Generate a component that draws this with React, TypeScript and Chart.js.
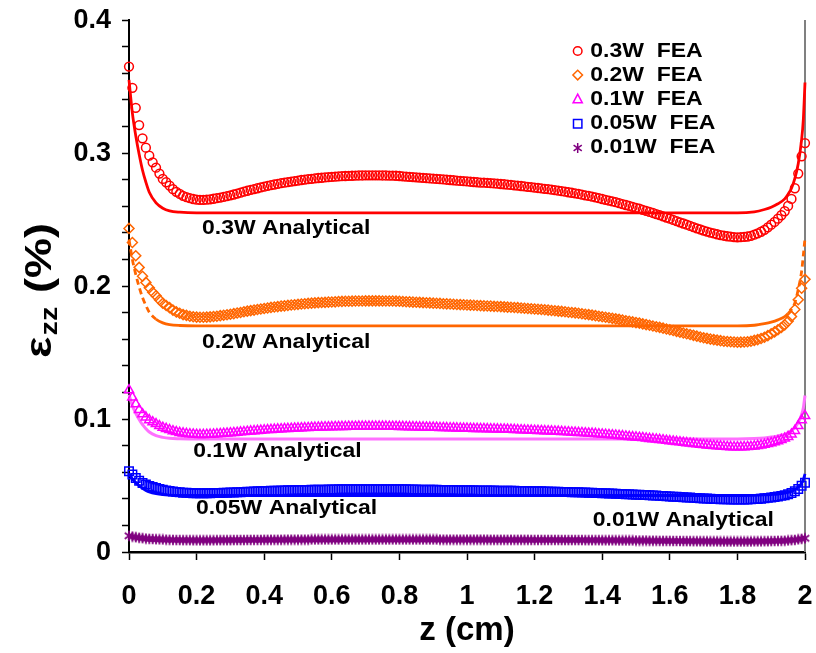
import React, { useEffect, useRef } from 'react';
import { Chart, registerables } from 'chart.js';

Chart.register(...registerables);

// z positions of the FEA samples (cm)
const zGrid = [
  0, 0.01, 0.02, 0.03, 0.04, 0.05, 0.06, 0.07, 0.08, 0.09,
  0.1, 0.11, 0.12, 0.13, 0.14, 0.15, 0.16, 0.17, 0.18, 0.19,
  0.2, 0.21, 0.22, 0.23, 0.24, 0.25, 0.26, 0.27, 0.28, 0.29,
  0.3, 0.31, 0.32, 0.33, 0.34, 0.35, 0.36, 0.37, 0.38, 0.39,
  0.4, 0.41, 0.42, 0.43, 0.44, 0.45, 0.46, 0.47, 0.48, 0.49,
  0.5, 0.51, 0.52, 0.53, 0.54, 0.55, 0.56, 0.57, 0.58, 0.59,
  0.6, 0.61, 0.62, 0.63, 0.64, 0.65, 0.66, 0.67, 0.68, 0.69,
  0.7, 0.71, 0.72, 0.73, 0.74, 0.75, 0.76, 0.77, 0.78, 0.79,
  0.8, 0.81, 0.82, 0.83, 0.84, 0.85, 0.86, 0.87, 0.88, 0.89,
  0.9, 0.91, 0.92, 0.93, 0.94, 0.95, 0.96, 0.97, 0.98, 0.99,
  1, 1.01, 1.02, 1.03, 1.04, 1.05, 1.06, 1.07, 1.08, 1.09,
  1.1, 1.11, 1.12, 1.13, 1.14, 1.15, 1.16, 1.17, 1.18, 1.19,
  1.2, 1.21, 1.22, 1.23, 1.24, 1.25, 1.26, 1.27, 1.28, 1.29,
  1.3, 1.31, 1.32, 1.33, 1.34, 1.35, 1.36, 1.37, 1.38, 1.39,
  1.4, 1.41, 1.42, 1.43, 1.44, 1.45, 1.46, 1.47, 1.48, 1.49,
  1.5, 1.51, 1.52, 1.53, 1.54, 1.55, 1.56, 1.57, 1.58, 1.59,
  1.6, 1.61, 1.62, 1.63, 1.64, 1.65, 1.66, 1.67, 1.68, 1.69,
  1.7, 1.71, 1.72, 1.73, 1.74, 1.75, 1.76, 1.77, 1.78, 1.79,
  1.8, 1.81, 1.82, 1.83, 1.84, 1.85, 1.86, 1.87, 1.88, 1.89,
  1.9, 1.91, 1.92, 1.93, 1.94, 1.95, 1.96, 1.97, 1.98, 1.99,
  2,
];

const fea03 = [
  0.365, 0.349, 0.334, 0.321, 0.311, 0.304, 0.298, 0.293, 0.289, 0.2845,
  0.2805, 0.278, 0.2755, 0.2728, 0.2708, 0.2692, 0.2678, 0.2668, 0.266, 0.2654,
  0.2649, 0.2647, 0.2647, 0.2649, 0.2652, 0.2656, 0.266, 0.2665, 0.267, 0.2676,
  0.2682, 0.2688, 0.2695, 0.2702, 0.2709, 0.2716, 0.2723, 0.2729, 0.2735, 0.2741,
  0.2747, 0.2753, 0.2758, 0.2763, 0.2768, 0.2773, 0.2777, 0.2781, 0.2785, 0.2789,
  0.2793, 0.2797, 0.28, 0.2803, 0.2806, 0.2809, 0.2812, 0.2814, 0.2816, 0.2818,
  0.282, 0.2822, 0.2824, 0.2826, 0.2827, 0.2828, 0.2829, 0.283, 0.2831, 0.2831,
  0.2832, 0.2832, 0.2832, 0.2832, 0.2832, 0.2831, 0.2831, 0.283, 0.283, 0.2829,
  0.2827, 0.2825, 0.2823, 0.2821, 0.2819, 0.2817, 0.2815, 0.2813, 0.2811, 0.2809,
  0.2807, 0.2805, 0.2803, 0.2801, 0.2799, 0.2797, 0.2795, 0.2792, 0.279, 0.2788,
  0.2786, 0.2784, 0.2782, 0.278, 0.2778, 0.2777, 0.2775, 0.2773, 0.2771, 0.2769,
  0.2767, 0.2765, 0.2762, 0.276, 0.2757, 0.2755, 0.2752, 0.2749, 0.2746, 0.2743,
  0.274, 0.2737, 0.2734, 0.2731, 0.2728, 0.2724, 0.2721, 0.2717, 0.2713, 0.2709,
  0.2705, 0.2701, 0.2697, 0.2692, 0.2687, 0.2682, 0.2677, 0.2672, 0.2666, 0.266,
  0.2654, 0.2648, 0.2642, 0.2636, 0.263, 0.2623, 0.2616, 0.2609, 0.2602, 0.2595,
  0.2588, 0.2581, 0.2573, 0.2565, 0.2557, 0.2549, 0.2541, 0.2533, 0.2524, 0.2515,
  0.2506, 0.2497, 0.2488, 0.2479, 0.247, 0.2461, 0.2452, 0.2443, 0.2434, 0.2425,
  0.2417, 0.2409, 0.2402, 0.2395, 0.2389, 0.2383, 0.2378, 0.2374, 0.2371, 0.2368,
  0.2366, 0.2367, 0.2369, 0.2372, 0.2377, 0.2386, 0.2396, 0.2408, 0.2422, 0.2441,
  0.2461, 0.2482, 0.2506, 0.2532, 0.2562, 0.2602, 0.2655, 0.2735, 0.2845, 0.2975,
  0.3075,
];

const fea02 = [
  0.2433, 0.2327, 0.2227, 0.214, 0.2073, 0.2027, 0.1987, 0.1953, 0.1927, 0.1897,
  0.187, 0.1853, 0.1837, 0.1819, 0.1805, 0.1795, 0.1785, 0.1779, 0.1773, 0.1769,
  0.1766, 0.1765, 0.1765, 0.1766, 0.1768, 0.1771, 0.1773, 0.1777, 0.178, 0.1784,
  0.1788, 0.1792, 0.1797, 0.1801, 0.1806, 0.1811, 0.1815, 0.1819, 0.1823, 0.1827,
  0.1831, 0.1835, 0.1839, 0.1842, 0.1845, 0.1849, 0.1851, 0.1854, 0.1857, 0.1859,
  0.1862, 0.1865, 0.1867, 0.1869, 0.1871, 0.1873, 0.1875, 0.1876, 0.1877, 0.1879,
  0.188, 0.1881, 0.1883, 0.1884, 0.1885, 0.1885, 0.1886, 0.1887, 0.1887, 0.1887,
  0.1888, 0.1888, 0.1888, 0.1888, 0.1888, 0.1887, 0.1887, 0.1887, 0.1887, 0.1886,
  0.1885, 0.1883, 0.1882, 0.1881, 0.1879, 0.1878, 0.1877, 0.1875, 0.1874, 0.1873,
  0.1871, 0.187, 0.1869, 0.1867, 0.1866, 0.1865, 0.1863, 0.1861, 0.186, 0.1859,
  0.1857, 0.1856, 0.1855, 0.1853, 0.1852, 0.1851, 0.185, 0.1849, 0.1847, 0.1846,
  0.1845, 0.1843, 0.1841, 0.184, 0.1838, 0.1837, 0.1835, 0.1833, 0.1831, 0.1829,
  0.1827, 0.1825, 0.1823, 0.1821, 0.1819, 0.1816, 0.1814, 0.1811, 0.1809, 0.1806,
  0.1803, 0.1801, 0.1798, 0.1795, 0.1791, 0.1788, 0.1785, 0.1781, 0.1777, 0.1773,
  0.1769, 0.1765, 0.1761, 0.1757, 0.1753, 0.1749, 0.1744, 0.1739, 0.1735, 0.173,
  0.1725, 0.1721, 0.1715, 0.171, 0.1705, 0.1699, 0.1694, 0.1689, 0.1683, 0.1677,
  0.1671, 0.1665, 0.1659, 0.1653, 0.1647, 0.1641, 0.1635, 0.1629, 0.1623, 0.1617,
  0.1611, 0.1606, 0.1601, 0.1597, 0.1593, 0.1589, 0.1585, 0.1583, 0.1581, 0.1579,
  0.1577, 0.1578, 0.1579, 0.1581, 0.1585, 0.1591, 0.1597, 0.1605, 0.1615, 0.1627,
  0.1641, 0.1655, 0.1671, 0.1688, 0.1708, 0.1735, 0.177, 0.1823, 0.1897, 0.1983,
  0.205,
];

const fea01 = [
  0.1217, 0.1163, 0.1113, 0.107, 0.1037, 0.1013, 0.0993, 0.0977, 0.0963, 0.0948,
  0.0935, 0.0927, 0.0918, 0.0909, 0.0903, 0.0897, 0.0893, 0.0889, 0.0887, 0.0885,
  0.0883, 0.0882, 0.0882, 0.0883, 0.0884, 0.0885, 0.0887, 0.0888, 0.089, 0.0892,
  0.0894, 0.0896, 0.0898, 0.0901, 0.0903, 0.0905, 0.0908, 0.091, 0.0912, 0.0914,
  0.0916, 0.0918, 0.0919, 0.0921, 0.0923, 0.0924, 0.0926, 0.0927, 0.0928, 0.093,
  0.0931, 0.0932, 0.0933, 0.0934, 0.0935, 0.0936, 0.0937, 0.0938, 0.0939, 0.0939,
  0.094, 0.0941, 0.0941, 0.0942, 0.0942, 0.0943, 0.0943, 0.0943, 0.0944, 0.0944,
  0.0944, 0.0944, 0.0944, 0.0944, 0.0944, 0.0944, 0.0944, 0.0943, 0.0943, 0.0943,
  0.0942, 0.0942, 0.0941, 0.094, 0.094, 0.0939, 0.0938, 0.0938, 0.0937, 0.0936,
  0.0936, 0.0935, 0.0934, 0.0934, 0.0933, 0.0932, 0.0932, 0.0931, 0.093, 0.0929,
  0.0929, 0.0928, 0.0927, 0.0927, 0.0926, 0.0926, 0.0925, 0.0924, 0.0924, 0.0923,
  0.0922, 0.0922, 0.0921, 0.092, 0.0919, 0.0918, 0.0917, 0.0916, 0.0915, 0.0914,
  0.0913, 0.0912, 0.0911, 0.091, 0.0909, 0.0908, 0.0907, 0.0906, 0.0904, 0.0903,
  0.0902, 0.09, 0.0899, 0.0897, 0.0896, 0.0894, 0.0892, 0.0891, 0.0889, 0.0887,
  0.0885, 0.0883, 0.0881, 0.0879, 0.0877, 0.0874, 0.0872, 0.087, 0.0867, 0.0865,
  0.0863, 0.086, 0.0858, 0.0855, 0.0852, 0.085, 0.0847, 0.0844, 0.0841, 0.0838,
  0.0835, 0.0832, 0.0829, 0.0826, 0.0823, 0.082, 0.0817, 0.0814, 0.0811, 0.0808,
  0.0806, 0.0803, 0.0801, 0.0798, 0.0796, 0.0794, 0.0793, 0.0791, 0.079, 0.0789,
  0.0789, 0.0789, 0.079, 0.0791, 0.0792, 0.0795, 0.0799, 0.0803, 0.0807, 0.0814,
  0.082, 0.0827, 0.0835, 0.0844, 0.0854, 0.0867, 0.0885, 0.0912, 0.0948, 0.0992,
  0.1025,
];

const fea005 = [
  0.0608, 0.0582, 0.0557, 0.0535, 0.0518, 0.0507, 0.0497, 0.0488, 0.0482, 0.0474,
  0.0468, 0.0463, 0.0459, 0.0455, 0.0451, 0.0449, 0.0446, 0.0445, 0.0443, 0.0442,
  0.0441, 0.0441, 0.0441, 0.0441, 0.0442, 0.0443, 0.0443, 0.0444, 0.0445, 0.0446,
  0.0447, 0.0448, 0.0449, 0.045, 0.0452, 0.0453, 0.0454, 0.0455, 0.0456, 0.0457,
  0.0458, 0.0459, 0.046, 0.0461, 0.0461, 0.0462, 0.0463, 0.0464, 0.0464, 0.0465,
  0.0466, 0.0466, 0.0467, 0.0467, 0.0468, 0.0468, 0.0469, 0.0469, 0.0469, 0.047,
  0.047, 0.047, 0.0471, 0.0471, 0.0471, 0.0471, 0.0471, 0.0472, 0.0472, 0.0472,
  0.0472, 0.0472, 0.0472, 0.0472, 0.0472, 0.0472, 0.0472, 0.0472, 0.0472, 0.0472,
  0.0471, 0.0471, 0.0471, 0.047, 0.047, 0.047, 0.0469, 0.0469, 0.0469, 0.0468,
  0.0468, 0.0468, 0.0467, 0.0467, 0.0467, 0.0466, 0.0466, 0.0465, 0.0465, 0.0465,
  0.0464, 0.0464, 0.0464, 0.0463, 0.0463, 0.0463, 0.0463, 0.0462, 0.0462, 0.0461,
  0.0461, 0.0461, 0.046, 0.046, 0.046, 0.0459, 0.0459, 0.0458, 0.0458, 0.0457,
  0.0457, 0.0456, 0.0456, 0.0455, 0.0455, 0.0454, 0.0454, 0.0453, 0.0452, 0.0452,
  0.0451, 0.045, 0.0449, 0.0449, 0.0448, 0.0447, 0.0446, 0.0445, 0.0444, 0.0443,
  0.0442, 0.0441, 0.044, 0.0439, 0.0438, 0.0437, 0.0436, 0.0435, 0.0434, 0.0433,
  0.0431, 0.043, 0.0429, 0.0428, 0.0426, 0.0425, 0.0424, 0.0422, 0.0421, 0.0419,
  0.0418, 0.0416, 0.0415, 0.0413, 0.0412, 0.041, 0.0409, 0.0407, 0.0406, 0.0404,
  0.0403, 0.0402, 0.04, 0.0399, 0.0398, 0.0397, 0.0396, 0.0396, 0.0395, 0.0395,
  0.0394, 0.0395, 0.0395, 0.0395, 0.0396, 0.0398, 0.0399, 0.0401, 0.0404, 0.0407,
  0.041, 0.0414, 0.0418, 0.0422, 0.0427, 0.0434, 0.0443, 0.0456, 0.0474, 0.0498,
  0.052,
];

const fea001 = [
  0.0122, 0.0116, 0.0111, 0.0107, 0.0104, 0.0101, 0.0099, 0.0098, 0.0096, 0.0095,
  0.0094, 0.0093, 0.0092, 0.0091, 0.009, 0.009, 0.0089, 0.0089, 0.0089, 0.0088,
  0.0088, 0.0088, 0.0088, 0.0088, 0.0088, 0.0088, 0.0089, 0.0089, 0.0089, 0.0089,
  0.0089, 0.009, 0.009, 0.009, 0.009, 0.0091, 0.0091, 0.0091, 0.0091, 0.0091,
  0.0092, 0.0092, 0.0092, 0.0092, 0.0092, 0.0092, 0.0093, 0.0093, 0.0093, 0.0093,
  0.0093, 0.0093, 0.0093, 0.0093, 0.0094, 0.0094, 0.0094, 0.0094, 0.0094, 0.0094,
  0.0094, 0.0094, 0.0094, 0.0094, 0.0094, 0.0094, 0.0094, 0.0094, 0.0094, 0.0094,
  0.0094, 0.0094, 0.0094, 0.0094, 0.0094, 0.0094, 0.0094, 0.0094, 0.0094, 0.0094,
  0.0094, 0.0094, 0.0094, 0.0094, 0.0094, 0.0094, 0.0094, 0.0094, 0.0094, 0.0094,
  0.0094, 0.0094, 0.0093, 0.0093, 0.0093, 0.0093, 0.0093, 0.0093, 0.0093, 0.0093,
  0.0093, 0.0093, 0.0093, 0.0093, 0.0093, 0.0093, 0.0093, 0.0092, 0.0092, 0.0092,
  0.0092, 0.0092, 0.0092, 0.0092, 0.0092, 0.0092, 0.0092, 0.0092, 0.0092, 0.0091,
  0.0091, 0.0091, 0.0091, 0.0091, 0.0091, 0.0091, 0.0091, 0.0091, 0.009, 0.009,
  0.009, 0.009, 0.009, 0.009, 0.009, 0.0089, 0.0089, 0.0089, 0.0089, 0.0089,
  0.0088, 0.0088, 0.0088, 0.0088, 0.0088, 0.0087, 0.0087, 0.0087, 0.0087, 0.0087,
  0.0086, 0.0086, 0.0086, 0.0086, 0.0085, 0.0085, 0.0085, 0.0084, 0.0084, 0.0084,
  0.0084, 0.0083, 0.0083, 0.0083, 0.0082, 0.0082, 0.0082, 0.0081, 0.0081, 0.0081,
  0.0081, 0.008, 0.008, 0.008, 0.008, 0.0079, 0.0079, 0.0079, 0.0079, 0.0079,
  0.0079, 0.0079, 0.0079, 0.0079, 0.0079, 0.008, 0.008, 0.008, 0.0081, 0.0081,
  0.0082, 0.0083, 0.0084, 0.0084, 0.0085, 0.0087, 0.0089, 0.0091, 0.0095, 0.0099,
  0.0103,
];

// analytical curves (z grid denser at the edges)
const anaZ = [
  0, 0.01, 0.02, 0.03, 0.04, 0.05, 0.06, 0.08, 0.1, 0.12, 0.15, 0.2,
  0.4, 0.6, 0.8, 1, 1.2, 1.4, 1.6, 1.8,
  1.85, 1.88, 1.9, 1.92, 1.94, 1.95, 1.96, 1.97, 1.98, 1.99, 1.995, 2,
];
const ana03 = [
  0.355, 0.33, 0.313, 0.299, 0.287, 0.278, 0.2705, 0.2625, 0.2585, 0.2565, 0.2555, 0.255,
  0.255, 0.255, 0.255, 0.255, 0.255, 0.255, 0.255, 0.255,
  0.2558, 0.2575, 0.2592, 0.2618, 0.2655, 0.269, 0.2735, 0.281, 0.292, 0.31, 0.325, 0.353,
];
const ana02 = [
  0.235, 0.22, 0.2087, 0.1993, 0.1913, 0.1853, 0.1803, 0.175, 0.1723, 0.171, 0.1703, 0.17,
  0.17, 0.17, 0.17, 0.17, 0.17, 0.17, 0.17, 0.17,
  0.1705, 0.1717, 0.1728, 0.1745, 0.177, 0.1793, 0.1823, 0.1873, 0.1975, 0.211, 0.223, 0.236,
];
const ana01 = [
  0.1183, 0.11, 0.1043, 0.0997, 0.0957, 0.0927, 0.0902, 0.0875, 0.0862, 0.0855, 0.0852, 0.085,
  0.085, 0.085, 0.085, 0.085, 0.085, 0.085, 0.085, 0.085,
  0.0853, 0.0858, 0.0864, 0.0873, 0.0885, 0.0897, 0.0912, 0.0937, 0.0973, 0.1033, 0.1083, 0.1177,
];
const ana005 = [
  0.0592, 0.055, 0.0522, 0.0498, 0.0478, 0.0463, 0.0451, 0.0438, 0.0431, 0.0428, 0.0426, 0.0425,
  0.0425, 0.0425, 0.0425, 0.0425, 0.0425, 0.0425, 0.0425, 0.0425,
  0.0426, 0.0429, 0.0432, 0.0436, 0.0443, 0.0448, 0.0456, 0.0468, 0.0487, 0.0517, 0.0542, 0.0588,
];
const ana001 = [
  0.0118, 0.011, 0.0104, 0.01, 0.0096, 0.0093, 0.009, 0.0088, 0.0086, 0.0086, 0.0085, 0.0085,
  0.0085, 0.0085, 0.0085, 0.0085, 0.0085, 0.0085, 0.0085, 0.0085,
  0.0085, 0.0086, 0.0086, 0.0087, 0.0089, 0.009, 0.0091, 0.0094, 0.0097, 0.0103, 0.0108, 0.0118,
];

const legendLabels = ['0.3W  FEA', '0.2W  FEA', '0.1W  FEA', '0.05W  FEA', '0.01W  FEA'];
const analyticalLabels = [
  '0.3W Analytical',
  '0.2W Analytical',
  '0.1W Analytical',
  '0.05W Analytical',
  '0.01W Analytical',
];

const FONT = '"Liberation Sans", Arial, Helvetica, sans-serif';
const RED = '#ff0000';
const ORANGE = '#ff6600';
const MAGENTA = '#ff00ff';
const PINK = '#ff70ff';
const BLUE = '#0000ff';
const PURPLE = '#800080';

const markerStyles = ['circle', 'diamond', 'triangle', 'square', 'asterisk'];
const markerColors = [RED, ORANGE, MAGENTA, BLUE, PURPLE];

// label anchor positions (left edge, vertical centre) in data units
const labelPos = [
  [0.216, 0.243],
  [0.216, 0.158],
  [0.19, 0.0755],
  [0.198, 0.033],
  [1.372, 0.0235],
];

function makeAsterisk(color: string, size: number) {
  const c = document.createElement('canvas');
  c.width = size;
  c.height = size;
  const g = c.getContext('2d')!;
  g.strokeStyle = color;
  g.lineWidth = 1.7;
  const r = size / 2 - 0.8;
  const cx = size / 2;
  const cy = size / 2;
  g.beginPath();
  for (const a of [90, 35, 145]) {
    const t = (a * Math.PI) / 180;
    g.moveTo(cx - r * Math.cos(t), cy - r * Math.sin(t));
    g.lineTo(cx + r * Math.cos(t), cy + r * Math.sin(t));
  }
  g.stroke();
  return c;
}

function drawMarker(ctx: CanvasRenderingContext2D, style: string, x: number, y: number, color: string) {
  ctx.save();
  ctx.strokeStyle = color;
  ctx.lineWidth = 1.5;
  ctx.beginPath();
  if (style === 'circle') {
    ctx.arc(x, y, 4.3, 0, Math.PI * 2);
  } else if (style === 'diamond') {
    ctx.moveTo(x, y - 4.8);
    ctx.lineTo(x + 4.8, y);
    ctx.lineTo(x, y + 4.8);
    ctx.lineTo(x - 4.8, y);
    ctx.closePath();
  } else if (style === 'triangle') {
    ctx.moveTo(x, y - 5.2);
    ctx.lineTo(x + 4.6, y + 3.6);
    ctx.lineTo(x - 4.6, y + 3.6);
    ctx.closePath();
  } else if (style === 'square') {
    ctx.rect(x - 4.2, y - 4.2, 8.4, 8.4);
  } else {
    const r = 5;
    for (const a of [90, 35, 145]) {
      const t = (a * Math.PI) / 180;
      ctx.moveTo(x - r * Math.cos(t), y - r * Math.sin(t));
      ctx.lineTo(x + r * Math.cos(t), y + r * Math.sin(t));
    }
  }
  ctx.stroke();
  ctx.restore();
}

function drawStretched(
  ctx: CanvasRenderingContext2D,
  text: string,
  x: number,
  y: number,
  size: number,
  sx: number,
) {
  ctx.save();
  ctx.translate(x, y);
  ctx.scale(sx, 1);
  ctx.font = `bold ${size}px ${FONT}`;
  ctx.fillStyle = '#000';
  ctx.textAlign = 'left';
  ctx.textBaseline = 'middle';
  ctx.fillText(text, 0, 0);
  ctx.restore();
}

const fmtTick = (v: number) => String(Math.round(v * 10) / 10);

const overlay = {
  id: 'overlay',
  beforeDatasetsDraw(chart: any) {
    const { ctx, chartArea } = chart;
    ctx.save();
    ctx.strokeStyle = '#808080';
    ctx.lineWidth = 2;
    ctx.beginPath();
    ctx.moveTo(chartArea.right, chartArea.top);
    ctx.lineTo(chartArea.right, chartArea.bottom);
    ctx.stroke();
    ctx.restore();
  },
  afterDraw(chart: any) {
    const { ctx, scales, chartArea } = chart;
    const xs = scales.x;
    const ys = scales.y;

    // tick labels
    ctx.save();
    ctx.fillStyle = '#000';
    ctx.font = `bold 27px ${FONT}`;
    ctx.textBaseline = 'middle';
    ctx.textAlign = 'center';
    xs.ticks.forEach((t: any) => {
      ctx.fillText(fmtTick(t.value), xs.getPixelForValue(t.value), chartArea.bottom + 45);
    });
    ctx.textAlign = 'right';
    ys.ticks.forEach((t: any) => {
      const k = Math.round(t.value * 50);
      if (k % 5 !== 0) return;
      ctx.fillText(fmtTick(t.value), chartArea.left - 18, ys.getPixelForValue(t.value) + 1);
    });
    ctx.restore();

    // analytical labels
    analyticalLabels.forEach((t, i) => {
      const [zx, vy] = labelPos[i];
      drawStretched(ctx, t, xs.getPixelForValue(zx), ys.getPixelForValue(vy), 20.5, 1.12);
    });

    // legend
    const legX = xs.getPixelForValue(1.3275);
    const rows = [0.3767, 0.3586, 0.3404, 0.322, 0.3038];
    legendLabels.forEach((t, i) => {
      const py = ys.getPixelForValue(rows[i]);
      drawMarker(ctx, markerStyles[i], legX, py, markerColors[i]);
      drawStretched(ctx, t, legX + 12.5, py, 20, 1.15);
    });

    // y-axis title  ε_zz (%)
    ctx.save();
    ctx.translate(41, 358);
    ctx.rotate(-Math.PI / 2);
    ctx.scale(1.25, 1);
    ctx.fillStyle = '#000';
    ctx.textBaseline = 'middle';
    ctx.textAlign = 'left';
    ctx.font = `bold 36px ${FONT}`;
    ctx.fillText('ε', 0, 0);
    const we = ctx.measureText('ε').width;
    ctx.font = `bold 23px ${FONT}`;
    ctx.fillText('zz', we + 1, 10);
    const wz = ctx.measureText('zz').width;
    ctx.font = `bold 36px ${FONT}`;
    ctx.fillText(' (%)', we + wz + 2, 0);
    ctx.restore();

    // x-axis title
    ctx.save();
    ctx.fillStyle = '#000';
    ctx.font = `bold 33px ${FONT}`;
    ctx.textAlign = 'center';
    ctx.textBaseline = 'middle';
    ctx.fillText('z (cm)', 467, 631);
    ctx.restore();
  },
};

export default function App() {
  const ref = useRef<HTMLCanvasElement>(null);

  useEffect(() => {
    const canvas = ref.current!;
    const star = makeAsterisk(PURPLE, 12);
    const toXY = (arr: number[]) => anaZ.map((z, i) => ({ x: z, y: arr[i] }));
    const steepDash = (dash: number[]) => (c: any) => {
      const dx = Math.abs(c.p1.parsed.x - c.p0.parsed.x);
      const dy = Math.abs(c.p1.parsed.y - c.p0.parsed.y);
      return dx > 0 && dy / dx > 0.25 ? dash : undefined;
    };

    const fea = (label: string, data: number[], color: string, style: any, radius: number) => ({
      type: 'line' as const,
      label,
      data,
      showLine: false,
      borderColor: color,
      backgroundColor: 'rgba(0,0,0,0)',
      pointStyle: style,
      pointRadius: radius,
      pointBorderColor: color,
      pointBackgroundColor: 'rgba(0,0,0,0)',
      pointBorderWidth: 1.5,
      order: 0,
      clip: false as any,
    });
    const ana = (label: string, data: number[], color: string, width: number, dashed: boolean) => ({
      type: 'line' as const,
      label,
      data: toXY(data),
      borderColor: color,
      borderWidth: width,
      pointRadius: 0,
      fill: false,
      cubicInterpolationMode: 'monotone' as const,
      order: 1,
      clip: false as any,
      segment: dashed ? { borderDash: steepDash([6, 4]) } : undefined,
    });

    const chart = new Chart(canvas, {
      type: 'line',
      data: {
        labels: zGrid as any,
        datasets: [
          ana('0.3W Analytical', ana03, RED, 2.8, false),
          ana('0.2W Analytical', ana02, ORANGE, 2.8, true),
          ana('0.1W Analytical', ana01, PINK, 3, false),
          ana('0.05W Analytical', ana005, BLUE, 2.8, false),
          ana('0.01W Analytical', ana001, PURPLE, 2.8, false),
          fea('0.3W FEA', fea03, RED, 'circle', 4.4),
          fea('0.2W FEA', fea02, ORANGE, 'rectRot', 5),
          fea('0.1W FEA', fea01, MAGENTA, 'triangle', 5.4),
          fea('0.05W FEA', fea005, BLUE, 'rect', 6),
          fea('0.01W FEA', fea001, PURPLE, star, 6),
        ] as any,
      },
      options: {
        responsive: false,
        animation: false,
        events: [],
        layout: { padding: { top: 20, right: 11, left: 0, bottom: 0 } },
        plugins: {
          legend: { display: false },
          tooltip: { enabled: false },
        },
        scales: {
          x: {
            type: 'linear',
            min: 0,
            max: 2,
            afterFit: (s: any) => {
              s.height = 101;
            },
            ticks: {
              stepSize: 0.2,
              autoSkip: false,
              maxRotation: 0,
              padding: 0,
              callback: () => '',
            },
            grid: {
              drawOnChartArea: false,
              drawTicks: true,
              tickLength: 8,
              tickColor: '#000',
              tickWidth: 1.5,
            },
            border: { color: '#000', width: 2.5 },
          },
          y: {
            type: 'linear',
            min: 0,
            max: 0.4,
            afterFit: (s: any) => {
              s.width = 129;
            },
            ticks: {
              stepSize: 0.02,
              autoSkip: false,
              padding: 0,
              callback: () => '',
            },
            grid: {
              drawOnChartArea: false,
              drawTicks: true,
              tickLength: 7,
              tickColor: '#000',
              tickWidth: 1.5,
            },
            border: { color: '#000', width: 2 },
          },
        },
      } as any,
      plugins: [overlay],
    });
    return () => chart.destroy();
  }, []);

  return (
    <div style={{ position: 'absolute', left: 0, top: 0, width: 816, height: 653, background: '#fff' }}>
      <canvas ref={ref} width={816} height={653} style={{ display: 'block', width: 816, height: 653 }} />
    </div>
  );
}
